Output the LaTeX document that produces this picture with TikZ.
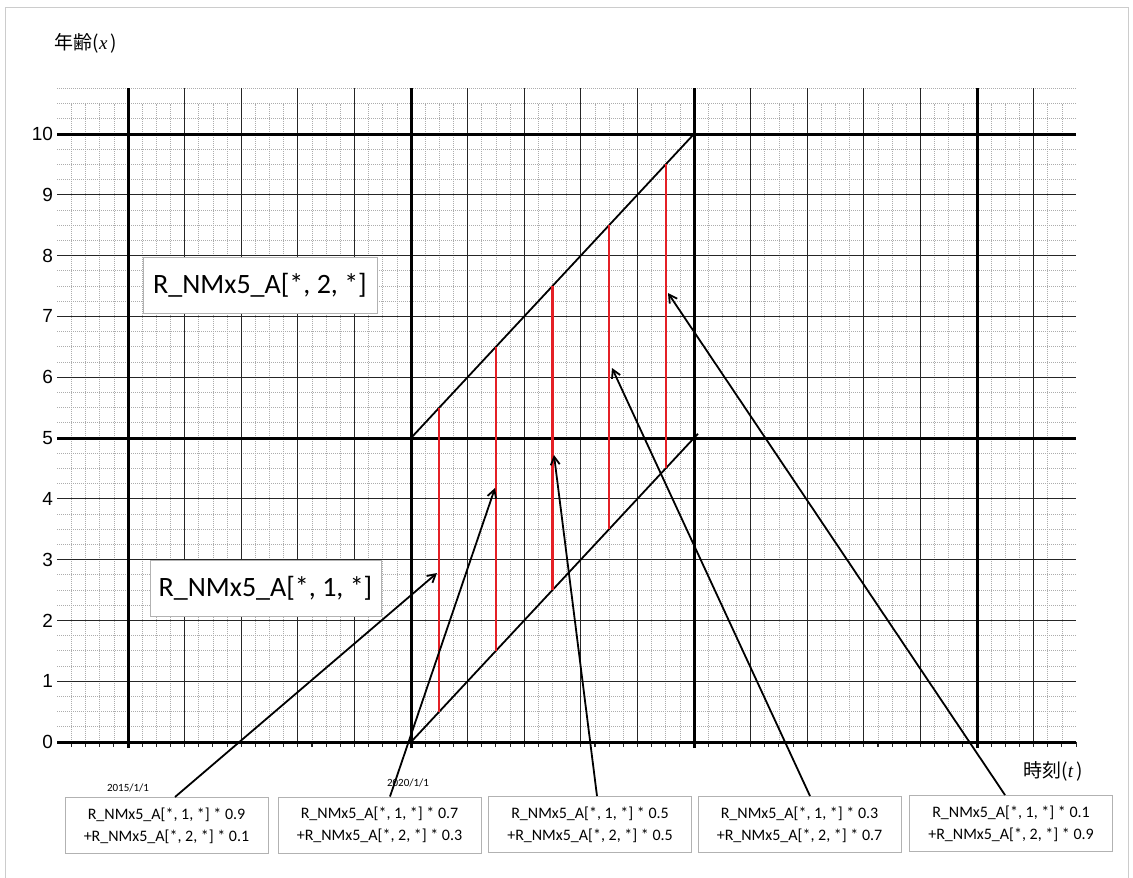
\documentclass[tikz,border=0pt]{standalone}
\usepackage{fontspec}
\setmainfont{Carlito}
\newfontfamily\numfont{Liberation Sans}
\newfontfamily\jpfont{Noto Sans CJK JP}
\newfontfamily\varfont{Liberation Serif}
\usetikzlibrary{arrows.meta}
\definecolor{gridred}{RGB}{228,32,38}
\begin{document}
\begin{tikzpicture}[x=1pt,y=-1pt,
  minorline/.style={draw=black!32, line width=0.7pt, dash pattern=on 1pt off 1pt},
  thinline/.style={draw=black!85, line width=1.1pt},
  majorline/.style={draw=black, line width=3pt},
  tickline/.style={draw=black!85, line width=1.1pt},
  diagline/.style={draw=black, line width=1.8pt},
  redline/.style={draw=gridred, line width=2.2pt},
  arrowline/.style={draw=black, line width=1.8pt, -{Straight Barb[length=8pt,width=9pt,line width=1.8pt]}},
  numlab/.style={font=\numfont\fontsize{19}{20}\selectfont, inner sep=0pt, anchor=east},
  formbox/.style={draw=black!30, line width=1pt, fill=white, minimum width=203pt, minimum height=56pt, align=center, inner sep=2pt, font=\fontsize{16}{22}\selectfont},
  bigbox/.style={draw=black!30, line width=1pt, fill=white, minimum height=56pt, align=center, font=\fontsize{28}{30}\selectfont},
  datelab/.style={font=\fontsize{11}{12}\selectfont, inner sep=0pt},
  axislab/.style={font=\jpfont\fontsize{19}{21}\selectfont, inner sep=0pt}]
\useasboundingbox (0,0) rectangle (1133,878);
\fill[white] (0,0) rectangle (1133,878);
\draw[draw=black!20, line width=1pt] (5,878) -- (5,7) -- (1128,7) -- (1128,878);

\begin{scope}[shift={(128pt,-742pt)}, x=56.6pt, y=60.8pt]
  % minor dotted grid
  \foreach \i in {1,...,43} \draw[minorline] (-1.25,\i/4) -- (16.75,\i/4);
  \foreach \i in {-4,...,66} \draw[minorline] (\i/4,0) -- (\i/4,10.5);
  % thin integer lines
  \foreach \t in {1,2,3,4,6,7,8,9,11,12,13,14,16} \draw[thinline] (\t,0) -- (\t,10.75);
  \foreach \a in {1,2,3,4,6,7,8,9} \draw[thinline] (-1.25,\a) -- (16.75,\a);
  % ticks
  \foreach \i in {-4,...,67} \draw[tickline] (\i/4,0) -- (\i/4,-0.09);
  % major lines
  \foreach \t in {0,5,10,15} \draw[majorline] (\t,-0.1) -- (\t,10.75);
  \foreach \a in {0,5,10} \draw[majorline] (-1.25,\a) -- (16.75,\a);
  % axis numbers
  \foreach \a in {0,...,10} \node[numlab, xshift=-4pt] (ylab\a) at (-1.25,\a) {\a};
  % diagonals
  \coordinate (d1s) at (5,5);
  \coordinate (d1e) at (10,10);
  \coordinate (d2s) at (5,0);
  \coordinate (d2e) at (10.07,5.07);
  \draw[diagline] (d1s) -- (d1e);
  \draw[diagline] (d2s) -- (d2e);
  \fill (d1s) circle (1.6pt);
  % red lines
  \foreach \t in {5.5,6.5,7.5,8.5,9.5} \draw[redline] (\t,\t-5) -- (\t,\t);
\end{scope}

% arrow targets
\coordinate (p1) at (437,573);
\coordinate (p2) at (495,488);
\coordinate (p3) at (554,455);
\coordinate (p4) at (612,368);
\coordinate (p5) at (668,293);

% labels
\node[axislab] (ylabel) at (86,43) {年齢({\varfont\itshape x\,})};
\node[axislab] (xlabel) at (1053,771) {時刻({\varfont\itshape t\,})};
\node[datelab] (d2015) at (128,788) {2015/1/1};
\node[datelab] (d2020) at (408,783) {2020/1/1};

\node[bigbox, minimum width=234pt] (big2) at (260,285.5) {R\_NMx5\_A[*, 2, *]};
\node[bigbox, minimum width=231pt] (big1) at (265.5,588.5) {R\_NMx5\_A[*, 1, *]};

% bottom boxes
\node[formbox] (b1) at (166.5,825.5) {R\_NMx5\_A[*, 1, *] * 0.9\\+R\_NMx5\_A[*, 2, *] * 0.1};
\node[formbox] (b2) at (379.5,825) {R\_NMx5\_A[*, 1, *] * 0.7\\+R\_NMx5\_A[*, 2, *] * 0.3};
\node[formbox] (b3) at (590,824.5) {R\_NMx5\_A[*, 1, *] * 0.5\\+R\_NMx5\_A[*, 2, *] * 0.5};
\node[formbox] (b4) at (799.5,824.5) {R\_NMx5\_A[*, 1, *] * 0.3\\+R\_NMx5\_A[*, 2, *] * 0.7};
\node[formbox] (b5) at (1011,823.5) {R\_NMx5\_A[*, 1, *] * 0.1\\+R\_NMx5\_A[*, 2, *] * 0.9};

% arrows
\draw[arrowline] ([xshift=8.5pt]b1.north) -- (p1);
\draw[arrowline] ([xshift=10.5pt]b2.north) -- (p2);
\draw[arrowline] ([xshift=7pt]b3.north) -- (p3);
\draw[arrowline] ([xshift=10.5pt]b4.north) -- (p4);
\draw[arrowline] ([xshift=-6pt]b5.north) -- (p5);
\end{tikzpicture}
\end{document}
